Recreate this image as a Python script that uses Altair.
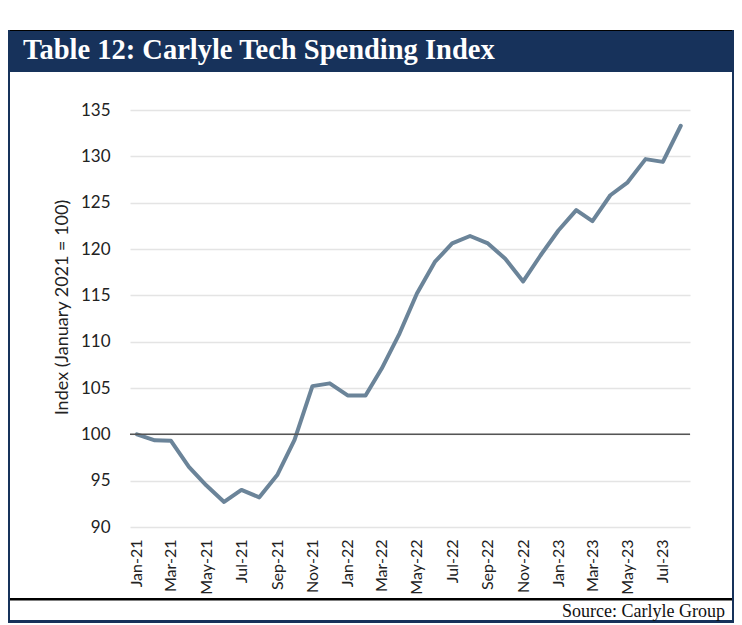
import altair as alt
import pandas as pd

# ---- data -------------------------------------------------------------
months = [d.strftime("%Y-%m-%d") for d in pd.date_range("2021-01-01", periods=32, freq="MS")]
index_values = [
    100.0, 99.35, 99.3, 96.5, 94.5, 92.7, 94.0, 93.2, 95.6, 99.4, 105.2, 105.5,
    104.2, 104.2, 107.1, 110.9, 115.2, 118.6, 120.6, 121.4, 120.6, 118.95, 116.5, 119.3,
    122.0, 124.2, 123.0, 125.8, 127.2, 129.7, 129.4, 133.3,
]
y_ticks = [90, 95, 100, 105, 110, 115, 120, 125, 130, 135]
x_tick_months = months[0:31:2]
baseline_value = [100]

title_text = "Table 12: Carlyle Tech Spending Index"
source_text = "Source: Carlyle Group"
y_title = "Index (January 2021 = 100)"

df = pd.DataFrame({"month": months, "value": index_values})

NAVY = "#17325b"
LINE = "#6b8499"
LABEL_FONT = "Lato"
LABEL_COLOR = "#222222"

x_enc = alt.X(
    "month:T",
    scale=alt.Scale(type="utc", domain=[alt.DateTime(year=2020, month=12, date=20, utc=True),
                                       alt.DateTime(year=2023, month=8, date=17, utc=True)]),
    axis=alt.Axis(
        values=[alt.DateTime(year=int(m[:4]), month=int(m[5:7]), date=1, utc=True) for m in x_tick_months],
        format="%b-%y", labelAngle=270, labelPadding=12, labelFontSize=16,
        labelFont=LABEL_FONT, labelColor=LABEL_COLOR, grid=False, domain=False, ticks=False,
        title=None,
    ),
)
y_enc = alt.Y(
    "value:Q",
    scale=alt.Scale(domain=[90, 135], nice=False, zero=False),
    axis=alt.Axis(
        values=y_ticks, labelPadding=20, labelFontSize=17, labelFont=LABEL_FONT,
        labelColor=LABEL_COLOR, grid=True, gridColor="#e4e4e4", gridWidth=1.5,
        domain=False, ticks=False, title=y_title, titleFont=LABEL_FONT,
        titleFontSize=18, titleFontWeight="normal", titleColor=LABEL_COLOR,
        titleX=-68, titleY=197, titleAngle=270, titleBaseline="middle",
    ),
)

one = alt.Data(values=[{}])

header = alt.Chart(one).mark_rect(color=NAVY).encode(
    x=alt.value(-123), x2=alt.value(605), y=alt.value(-80), y2=alt.value(-38))
header_top = alt.Chart(one).mark_rect(color="#000000").encode(
    x=alt.value(-123), x2=alt.value(605), y=alt.value(-80), y2=alt.value(-79))
left_bar = alt.Chart(one).mark_rect(color=NAVY).encode(
    x=alt.value(-123), x2=alt.value(-120), y=alt.value(-80), y2=alt.value(513))
right_bar = alt.Chart(one).mark_rect(color=NAVY).encode(
    x=alt.value(602), x2=alt.value(605), y=alt.value(-80), y2=alt.value(513))
bottom_bar = alt.Chart(one).mark_rect(color=NAVY).encode(
    x=alt.value(-123), x2=alt.value(605), y=alt.value(510), y2=alt.value(513))
black_line = alt.Chart(one).mark_rect(color="#000000").encode(
    x=alt.value(-120), x2=alt.value(602), y=alt.value(488), y2=alt.value(490.5))
title = alt.Chart(one).mark_text(
    text=title_text, font="Liberation Serif", fontWeight="bold", fontSize=28.5,
    color="white", align="left", baseline="alphabetic").encode(
    x=alt.value(-107), y=alt.value(-51))
source = alt.Chart(one).mark_text(
    text=source_text, font="Liberation Serif", fontSize=18,
    color="#111111", align="right", baseline="alphabetic").encode(
    x=alt.value(595), y=alt.value(507))

base = alt.Chart(df)
rule = alt.Chart(pd.DataFrame({"v": baseline_value})).mark_rule(
    color="#555555", strokeWidth=1.5).encode(y=alt.Y("v:Q", scale=alt.Scale(domain=[90, 135])))
line = base.mark_line(color=LINE, strokeWidth=4, strokeCap="round", strokeJoin="round").encode(
    x=x_enc, y=y_enc)

chart = alt.layer(
    header, header_top, left_bar, right_bar, bottom_bar, black_line, title, source,
    line, rule,
).properties(
    width=560, height=417,
    autosize=alt.AutoSizeParams(type="none"),
    padding={"left": 122, "top": 102, "right": 44, "bottom": 96},
).configure_view(stroke=None)

chart.save("out.html", embed_options={"renderer": "svg", "actions": False})
